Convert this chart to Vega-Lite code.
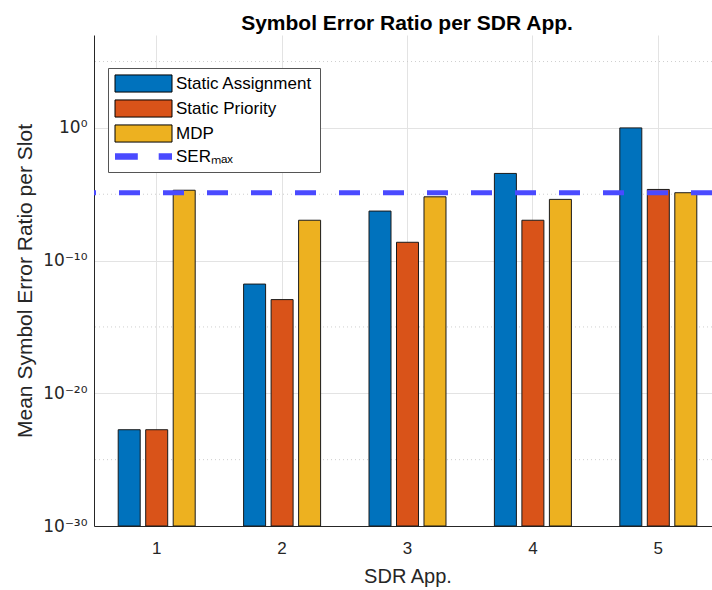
{
  "$schema": "https://vega.github.io/schema/vega-lite/v6.json",
  "width": 618,
  "height": 491,
  "autosize": {"type": "none"},
  "padding": {"left": 94, "top": 35, "right": 0, "bottom": 64},
  "config": {
    "font": "Liberation Sans",
    "view": {"stroke": null},
    "axis": {
      "domainColor": "#262626",
      "domainWidth": 1,
      "gridColor": "#e3e3e3",
      "gridWidth": 1,
      "labelColor": "#262626",
      "titleColor": "#262626",
      "titleFontWeight": "normal",
      "tickColor": "#262626"
    }
  },
  "title": {
    "text": "Symbol Error Ratio per SDR App.",
    "fontSize": 21,
    "fontWeight": "bold",
    "color": "#000000",
    "anchor": "middle",
    "baseline": "alphabetic",
    "offset": 8,
    "dx": 4,
    "dy": 24
  },
  "datasets": {
    "ser": [
      {"app": "1", "method": "Static Assignment", "ser": 1.8e-23},
      {"app": "1", "method": "Static Priority", "ser": 1.8e-23},
      {"app": "1", "method": "MDP", "ser": 2.0e-5},
      {"app": "2", "method": "Static Assignment", "ser": 1.7e-12},
      {"app": "2", "method": "Static Priority", "ser": 1.15e-13},
      {"app": "2", "method": "MDP", "ser": 1.1e-7},
      {"app": "3", "method": "Static Assignment", "ser": 5.4e-7},
      {"app": "3", "method": "Static Priority", "ser": 2.4e-9},
      {"app": "3", "method": "MDP", "ser": 6.4e-6},
      {"app": "4", "method": "Static Assignment", "ser": 3.7e-4},
      {"app": "4", "method": "Static Priority", "ser": 1.1e-7},
      {"app": "4", "method": "MDP", "ser": 4.1e-6},
      {"app": "5", "method": "Static Assignment", "ser": 1.0},
      {"app": "5", "method": "Static Priority", "ser": 2.3e-5},
      {"app": "5", "method": "MDP", "ser": 1.3e-5}
    ],
    "minorGrid": [
      {"level": 1e-25},
      {"level": 1e-15},
      {"level": 1e-5},
      {"level": 1e5}
    ],
    "limit": [
      {"name": "SERₘₐₓ", "ser": 1.3e-5}
    ]
  },
  "layer": [
    {
      "data": {"name": "minorGrid"},
      "mark": {"type": "rule", "color": "#cfcfcf", "strokeWidth": 1, "strokeDash": [1, 3]},
      "encoding": {
        "y": {"field": "level", "type": "quantitative", "title": "Mean Symbol Error Ratio per Slot"}
      }
    },
    {
      "data": {"name": "ser"},
      "mark": {"type": "bar", "stroke": "#1a1a1a", "strokeWidth": 1},
      "encoding": {
        "x": {
          "field": "app",
          "type": "ordinal",
          "title": "SDR App.",
          "scale": {"range": [0, 627], "paddingInner": 0.386, "paddingOuter": 0.193},
          "axis": {
            "labelAngle": 0,
            "labelFontSize": 17,
            "labelPadding": 14,
            "ticks": false,
            "grid": true,
            "titleFontSize": 20,
            "titlePadding": 10
          }
        },
        "xOffset": {
          "field": "method",
          "type": "nominal",
          "sort": ["Static Assignment", "Static Priority", "MDP"],
          "scale": {"paddingInner": 0.2, "paddingOuter": 0}
        },
        "y": {
          "field": "ser",
          "type": "quantitative",
          "stack": null,
          "title": "Mean Symbol Error Ratio per Slot",
          "scale": {"type": "log", "domain": [1e-30, 1e7], "nice": false},
          "axis": {
            "values": [1e-30, 1e-20, 1e-10, 1],
            "labelExpr": "round(log(datum.value)/LN10) == 0 ? '10⁰' : round(log(datum.value)/LN10) == -10 ? '10⁻¹⁰' : round(log(datum.value)/LN10) == -20 ? '10⁻²⁰' : '10⁻³⁰'",
            "labelFont": "DejaVu Sans",
            "labelFontSize": 17,
            "labelPadding": 7,
            "ticks": false,
            "grid": true,
            "titleFontSize": 21,
            "titlePadding": 7
          }
        },
        "color": {
          "field": "method",
          "type": "nominal",
          "scale": {
            "domain": ["Static Assignment", "Static Priority", "MDP", "SERₘₐₓ"],
            "range": ["#0072BD", "#D95319", "#EDB120", "#4a4aff"]
          },
          "legend": {
            "title": null,
            "orient": "none",
            "legendX": 14,
            "legendY": 33,
            "fillColor": "#ffffff",
            "strokeColor": "#555555",
            "padding": 7,
            "labelFontSize": 17,
            "labelColor": "#000000",
            "labelOffset": 24,
            "rowPadding": 2,
            "symbolSize": 361,
            "symbolOffset": 20,
            "symbolStrokeColor": "#000000",
            "symbolStrokeWidth": 1,
            "symbolOpacity": 1,
            "symbolType": "M-3,-0.9H3V0.9H-3Z",
            "encode": {
              "symbols": {
                "update": {
                  "shape": {"signal": "datum.value === 'SERₘₐₓ' ? 'M-3,-0.35H-0.6V0.35H-3Z M1.6,-0.35H3V0.35H1.6Z' : 'M-3,-0.9H3V0.9H-3Z'"},
                  "strokeWidth": {"signal": "datum.value === 'SERₘₐₓ' ? 0 : 1"}
                }
              }
            }
          }
        }
      }
    },
    {
      "data": {"name": "limit"},
      "mark": {"type": "rule", "color": "#4a4aff", "strokeWidth": 5, "strokeDash": [21, 23]},
      "encoding": {
        "y": {"field": "ser", "type": "quantitative", "title": "Mean Symbol Error Ratio per Slot"}
      }
    }
  ]
}
